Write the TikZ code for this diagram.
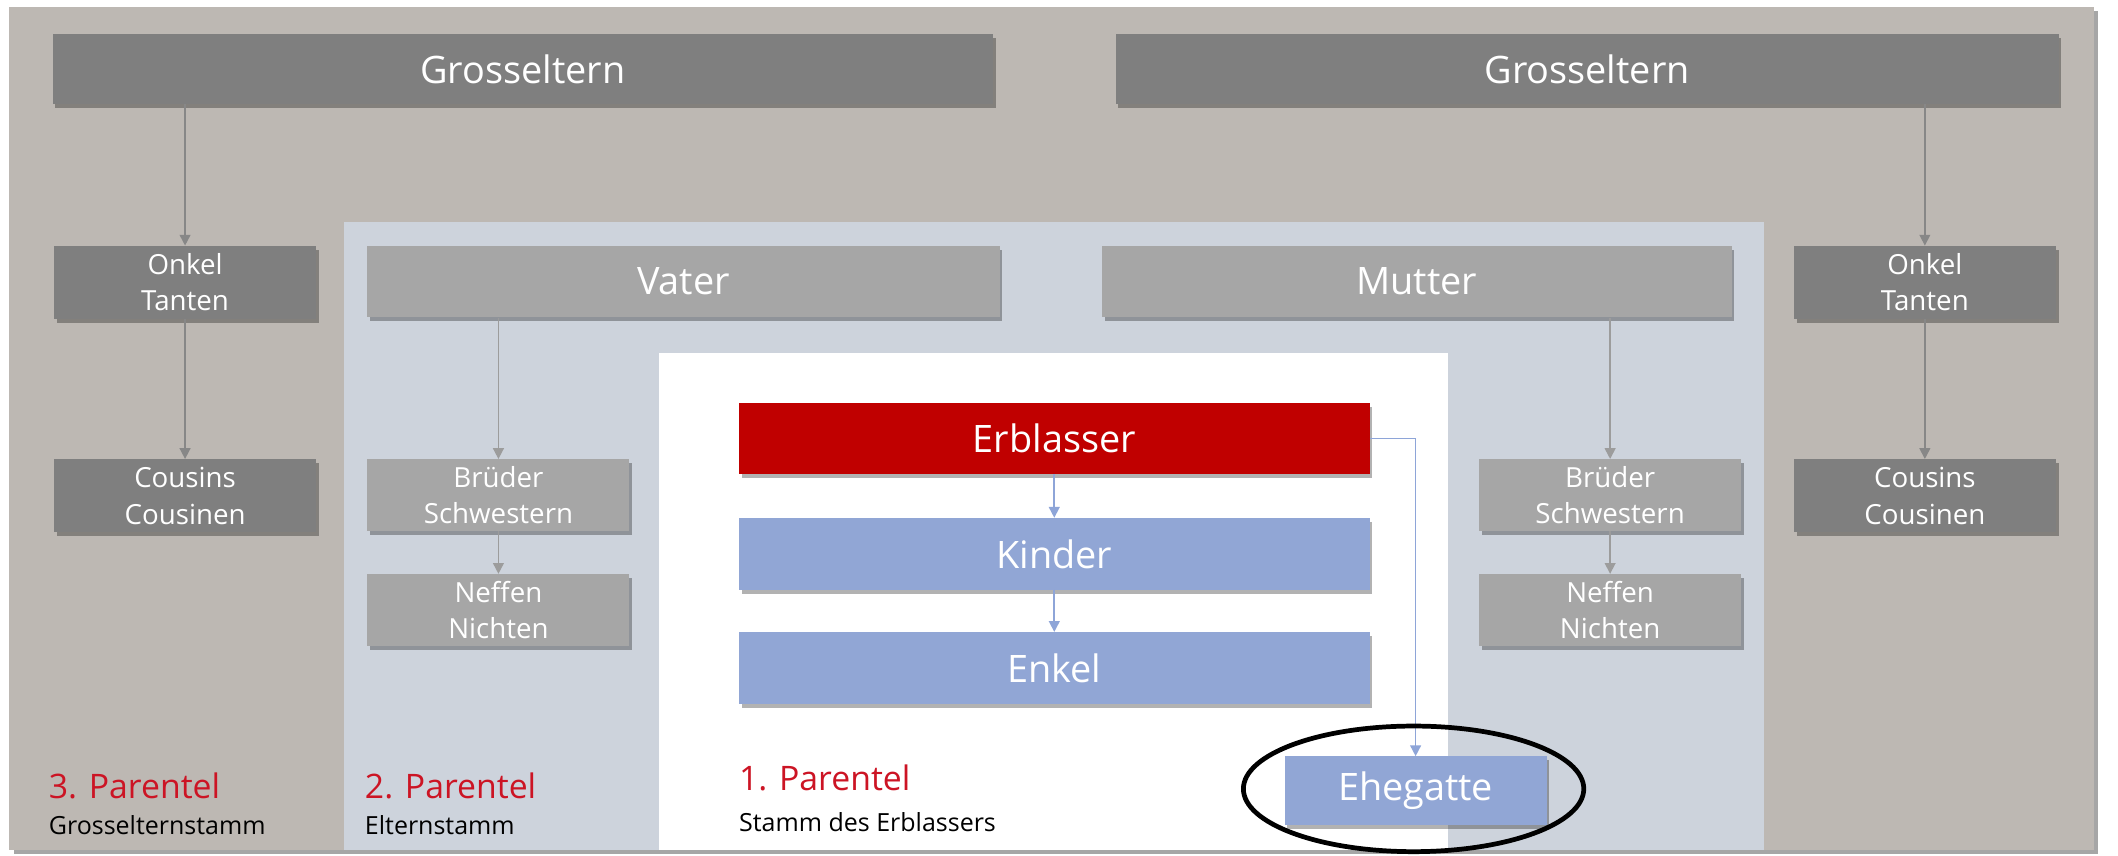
\documentclass[tikz,border=0pt]{standalone}
\usepackage{fontspec}
\setmainfont{Open Sans}
\usetikzlibrary{arrows.meta,shadows,positioning}
\definecolor{bgtaupe}{HTML}{BDB8B3}
\definecolor{panelblue}{HTML}{CDD3DC}
\definecolor{darkbox}{HTML}{7F7F7F}
\definecolor{midbox}{HTML}{A6A6A6}
\definecolor{redbox}{HTML}{C00000}
\definecolor{bluebox}{HTML}{91A6D5}
\definecolor{blueline}{HTML}{8EA5D8}
\definecolor{grayline}{HTML}{878787}
\definecolor{lightgrayline}{HTML}{9C9C9C}
\definecolor{labelred}{HTML}{CC1424}
\tikzset{
  boxshadow/.style={drop shadow={shadow xshift=2pt,shadow yshift=-3pt,opacity=0.3,fill=black}},
  bigbox/.style={rectangle,inner sep=0pt,text=white,boxshadow,font=\fontsize{28}{32}\selectfont},
  smallbox/.style={rectangle,inner sep=0pt,text=white,boxshadow,align=center,minimum width=194pt,font=\fontsize{20.5}{27}\selectfont},
  darkfill/.style={fill=darkbox},
  midfill/.style={fill=midbox},
  grayarrow/.style={draw=grayline,line width=1.2pt,-{Triangle[width=8pt,length=8pt]}},
  lgrayarrow/.style={draw=lightgrayline,line width=1.2pt,-{Triangle[width=8pt,length=8pt]}},
  bluearrow/.style={draw=blueline,line width=1.2pt,-{Triangle[width=8pt,length=8pt]}},
  parlabel/.style={anchor=base west,inner sep=0pt,text=labelred,font=\fontsize{25}{30}\selectfont},
  sublabel/.style={anchor=base west,inner sep=0pt,text=black,font=\fontsize{18.5}{22}\selectfont},
}
\begin{document}
\begin{tikzpicture}[x=1pt,y=-1pt]
\useasboundingbox[fill=white] (0,0) rectangle (1568,633);
% panels
\fill[bgtaupe,drop shadow={shadow xshift=3pt,shadow yshift=-3pt,opacity=0.35,fill=black}] (7,5) rectangle (1550,629);
\fill[panelblue] (255,164) rectangle (1306,629);
\fill[white] (488,261) rectangle (1072,629);
% grandparents
\node[bigbox,darkfill,minimum width=696pt,minimum height=52pt] (gpL) at (387,51) {Grosseltern};
\node[bigbox,darkfill,minimum width=698pt,minimum height=52pt] (gpR) at (1175,51) {Grosseltern};
% uncles / cousins
\node[smallbox,darkfill,minimum height=54pt] (onkL) at (137,209) {Onkel\\Tanten};
\node[smallbox,darkfill,minimum height=54pt] (onkR) at (1425,209) {Onkel\\Tanten};
\node[smallbox,darkfill,minimum height=54pt] (cousL) at (137,367) {Cousins\\Cousinen};
\node[smallbox,darkfill,minimum height=54pt] (cousR) at (1425,367) {Cousins\\Cousinen};
% parents
\node[bigbox,midfill,minimum width=468pt,minimum height=53pt] (vater) at (506,208.5) {Vater};
\node[bigbox,midfill,minimum width=466pt,minimum height=53pt] (mutter) at (1049,208.5) {Mutter};
\node[smallbox,midfill,minimum height=53pt] (bruL) at (369,366.5) {Brüder\\Schwestern};
\node[smallbox,midfill,minimum height=53pt] (neffL) at (369,451.5) {Neffen\\Nichten};
\node[smallbox,midfill,minimum height=53pt] (bruR) at (1192,366.5) {Brüder\\Schwestern};
\node[smallbox,midfill,minimum height=53pt] (neffR) at (1192,451.5) {Neffen\\Nichten};
% first parentel
\node[bigbox,fill=redbox,minimum width=467pt,minimum height=53pt] (erbl) at (780.5,324.5) {Erblasser};
\node[bigbox,fill=bluebox,minimum width=467pt,minimum height=53pt] (kinder) at (780.5,410) {Kinder};
\node[bigbox,fill=bluebox,minimum width=467pt,minimum height=53pt] (enkel) at (780.5,494.5) {Enkel};
\node[bigbox,fill=bluebox,minimum width=194pt,minimum height=51pt] (ehe) at (1048,585.5) {Ehegatte};
% arrows
\draw[grayarrow] (onkL |- gpL.south) -- (onkL.north);
\draw[grayarrow] (onkL.south) -- (cousL.north);
\draw[grayarrow] (onkR |- gpR.south) -- (onkR.north);
\draw[grayarrow] (onkR.south) -- (cousR.north);
\draw[lgrayarrow] (bruL |- vater.south) -- (bruL.north);
\draw[lgrayarrow] (bruL.south) -- (neffL.north);
\draw[lgrayarrow] (bruR |- mutter.south) -- (bruR.north);
\draw[lgrayarrow] (bruR.south) -- (neffR.north);
\draw[bluearrow] (erbl.south) -- (kinder.north);
\draw[bluearrow] (kinder.south) -- (enkel.north);
\draw[bluearrow] (erbl.east) -| (ehe.north);
% labels
\node[parlabel] (p3) at (36,591) {3. Parentel};
\node[sublabel] (s3) at (36,617.5) {Grosselternstamm};
\node[parlabel] (p2) at (270,591) {2. Parentel};
\node[sublabel] (s2) at (270,617.5) {Elternstamm};
\node[parlabel] (p1) at (547,585) {1. Parentel};
\node[sublabel] (s1) at (547,615.5) {Stamm des Erblassers};
% highlight ellipse
\draw[line width=3.5pt,black] (1046.5,584) ellipse [x radius=126, y radius=46.5];
\end{tikzpicture}
\end{document}
